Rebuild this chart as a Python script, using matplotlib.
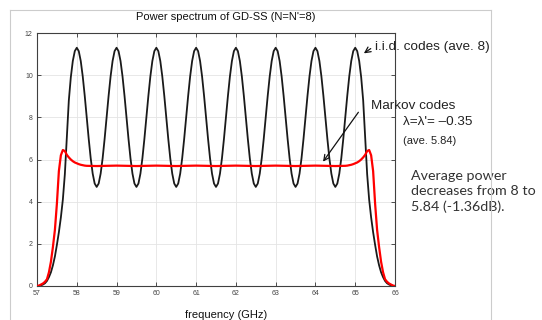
import numpy as np
import matplotlib
matplotlib.use("Agg")
import matplotlib.pyplot as plt
from matplotlib.lines import Line2D

# Power spectrum values
freq = np.round(np.arange(57.0, 66.001, 0.05), 2)

iid_power = [
    0.00, 0.01, 0.03, 0.07, 0.13, 0.24, 0.42, 0.65, 0.98, 1.40,
    1.95, 2.55, 3.25, 4.10, 5.30, 7.05, 8.80, 9.90, 10.67, 11.14,
    11.30, 11.14, 10.67, 9.94, 9.02, 8.00, 6.98, 6.06, 5.33, 4.86, 4.70, 4.86, 5.33, 6.06, 6.98, 8.00, 9.02, 9.94, 10.67, 11.14,
    11.30, 11.14, 10.67, 9.94, 9.02, 8.00, 6.98, 6.06, 5.33, 4.86, 4.70, 4.86, 5.33, 6.06, 6.98, 8.00, 9.02, 9.94, 10.67, 11.14,
    11.30, 11.14, 10.67, 9.94, 9.02, 8.00, 6.98, 6.06, 5.33, 4.86, 4.70, 4.86, 5.33, 6.06, 6.98, 8.00, 9.02, 9.94, 10.67, 11.14,
    11.30, 11.14, 10.67, 9.94, 9.02, 8.00, 6.98, 6.06, 5.33, 4.86, 4.70, 4.86, 5.33, 6.06, 6.98, 8.00, 9.02, 9.94, 10.67, 11.14,
    11.30, 11.14, 10.67, 9.94, 9.02, 8.00, 6.98, 6.06, 5.33, 4.86, 4.70, 4.86, 5.33, 6.06, 6.98, 8.00, 9.02, 9.94, 10.67, 11.14,
    11.30, 11.14, 10.67, 9.94, 9.02, 8.00, 6.98, 6.06, 5.33, 4.86, 4.70, 4.86, 5.33, 6.06, 6.98, 8.00, 9.02, 9.94, 10.67, 11.14,
    11.30, 11.14, 10.67, 9.94, 9.02, 8.00, 6.98, 6.06, 5.33, 4.86, 4.70, 4.86, 5.33, 6.06, 6.98, 8.00, 9.02, 9.94, 10.67, 11.14,
    11.30,
    11.14, 10.67, 9.90, 8.80, 7.05, 5.30, 4.10, 3.25, 2.55, 1.95,
    1.40, 0.98, 0.65, 0.42, 0.24, 0.13, 0.07, 0.03, 0.01, 0.00,
]

markov_freq = [
    57.00, 57.05, 57.10, 57.15, 57.20, 57.25, 57.30, 57.35, 57.40, 57.45, 57.50, 57.55, 57.60,
    57.65, 57.70, 57.75, 57.80, 57.85, 57.90, 57.95, 58.00, 58.05, 58.10, 58.15, 58.20, 58.25,
    58.50, 58.75, 59.00, 59.25, 59.50, 59.75, 60.00, 60.25, 60.50, 60.75, 61.00, 61.25, 61.50,
    61.75, 62.00, 62.25, 62.50, 62.75, 63.00, 63.25, 63.50, 63.75, 64.00, 64.25, 64.50,
    64.75, 64.80, 64.85, 64.90, 64.95, 65.00, 65.05, 65.10, 65.15, 65.20, 65.25, 65.30, 65.35,
    65.40, 65.45, 65.50, 65.55, 65.60, 65.65, 65.70, 65.75, 65.80, 65.85, 65.90, 65.95, 66.00,
]
markov_power = [
    0.00, 0.02, 0.07, 0.12, 0.20, 0.32, 0.65, 1.15, 1.85, 2.66, 3.90, 5.45, 6.20,
    6.45, 6.40, 6.22, 6.10, 6.00, 5.92, 5.86, 5.82, 5.78, 5.75, 5.73, 5.71, 5.70,
    5.69, 5.70, 5.71, 5.70, 5.69, 5.70, 5.71, 5.70, 5.69, 5.70, 5.71, 5.70, 5.69,
    5.70, 5.71, 5.70, 5.69, 5.70, 5.71, 5.70, 5.69, 5.70, 5.71, 5.70, 5.69,
    5.70, 5.71, 5.73, 5.75, 5.78, 5.82, 5.86, 5.92, 6.00, 6.10, 6.22, 6.40, 6.45,
    6.20, 5.45, 3.90, 2.66, 1.85, 1.15, 0.65, 0.32, 0.20, 0.12, 0.07, 0.02, 0.00,
]

x_ticks = [57, 58, 59, 60, 61, 62, 63, 64, 65, 66]
y_ticks = [0, 2, 4, 6, 8, 10, 12]

plt.rcParams['font.family'] = ['Liberation Sans', 'DejaVu Sans']

W, H = 542, 320
fig = plt.figure(figsize=(W / 100, H / 100), dpi=100)
ax = fig.add_axes([37 / W, 1 - 286 / H, (395 - 37) / W, (286 - 33) / H])

ax.plot(freq, iid_power, color="#1a1a1a", linewidth=1.3, zorder=3)
ax.plot(markov_freq, markov_power, color="#ff0000", linewidth=1.6, zorder=4)

ax.set_xlim(57, 66)
ax.set_ylim(0, 12)
ax.set_xticks(x_ticks)
ax.set_yticks(y_ticks)
ax.tick_params(direction="in", length=3, width=0.6, labelsize=5,
               colors="#333333", labelcolor="#444444",
               top=True, right=True, pad=3)
ax.grid(True, color="#e4e4e4", linewidth=0.6)
ax.set_axisbelow(True)
for s in ax.spines.values():
    s.set_color("#404040")
    s.set_linewidth(0.8)

# title and x label (MATLAB-style, a bit right of axes centre)
fig.text(226 / W, 1 - 17 / H, "Power spectrum of GD-SS (N=N'=8)",
         ha="center", va="center", fontsize=8, color="#111111")
fig.text(226 / W, 1 - 315 / H, "frequency (GHz)",
         ha="center", va="center", fontsize=8, color="#111111")

# annotations
ax.annotate("", xy=(65.16, 10.96), xytext=(373 / W, 1 - 47 / H),
            textcoords="figure fraction",
            arrowprops=dict(arrowstyle="->", color="#111111", lw=0.9))
fig.text(375 / W, 1 - 47 / H, "i.i.d. codes (ave. 8)",
         ha="left", va="center", fontsize=9.7, color="#222222")

ax.annotate("", xy=(64.15, 5.79), xytext=(360 / W, 1 - 110 / H),
            textcoords="figure fraction",
            arrowprops=dict(arrowstyle="->", color="#111111", lw=0.9))
fig.text(371 / W, 1 - 106 / H, "Markov codes",
         ha="left", va="center", fontsize=9.7, color="#222222")
fig.text(403 / W, 1 - 122 / H, "λ=λ'= –0.35",
         ha="left", va="center", fontsize=9.7, color="#222222")
fig.text(403 / W, 1 - 141 / H, "(ave. 5.84)",
         ha="left", va="center", fontsize=8, color="#222222")

fig.text(411 / W, 1 - 170 / H,
         "Average power\ndecreases from 8 to\n5.84 (-1.36dB).",
         ha="left", va="top", fontsize=10.3, color="#333333",
         family=["Lato", "DejaVu Sans"], linespacing=1.3)

# light frame around the picture (runs off the bottom)
bx0, bx1, by = 10 / W, 491 / W, 1 - 10 / H
for xs, ys in [([bx0, bx1], [by, by]), ([bx0, bx0], [by, 0]), ([bx1, bx1], [by, 0])]:
    fig.add_artist(Line2D(xs, ys, color="#cccccc", linewidth=0.8, zorder=10))

fig.savefig("out.png", dpi=100)
